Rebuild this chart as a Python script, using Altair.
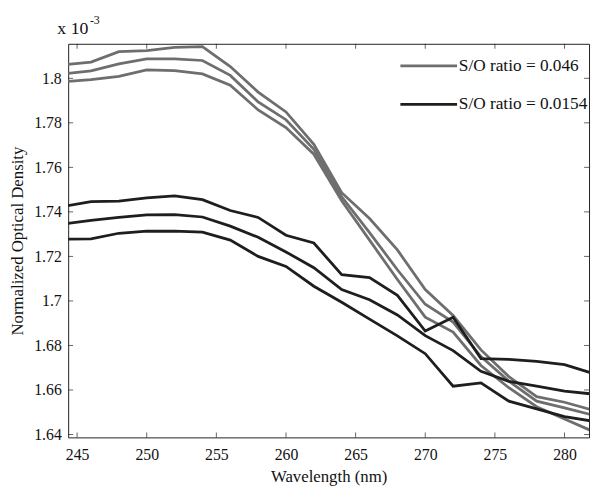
import altair as alt
import pandas as pd

wavelength = [244, 246, 248, 250, 252, 254, 256, 258, 260, 262,
              264, 266, 268, 270, 272, 274, 276, 278, 280, 282]

g1 = [1.8060, 1.8073, 1.8120, 1.8124, 1.8139, 1.8142, 1.8053, 1.7938, 1.7849, 1.7703,
      1.7486, 1.7370, 1.7229, 1.7051, 1.6935, 1.6780, 1.6660, 1.6570, 1.6545, 1.6510]
g2 = [1.8020, 1.8033, 1.8065, 1.8087, 1.8087, 1.8080, 1.8013, 1.7894, 1.7814, 1.7681,
      1.7468, 1.7307, 1.7140, 1.6985, 1.6905, 1.6750, 1.6640, 1.6550, 1.6520, 1.6488]
g3 = [1.7984, 1.7994, 1.8009, 1.8038, 1.8034, 1.8020, 1.7969, 1.7858, 1.7779, 1.7659,
      1.7450, 1.7273, 1.7096, 1.6927, 1.6860, 1.6710, 1.6610, 1.6525, 1.6470, 1.6415]
b1 = [1.7424, 1.7446, 1.7448, 1.7463, 1.7472, 1.7455, 1.7406, 1.7375, 1.7295, 1.7260,
      1.7118, 1.7105, 1.7025, 1.6865, 1.6927, 1.6741, 1.6737, 1.6728, 1.6714, 1.6675]
b2 = [1.7346, 1.7362, 1.7375, 1.7386, 1.7388, 1.7377, 1.7336, 1.7286, 1.7220, 1.7149,
      1.7051, 1.7005, 1.6937, 1.6844, 1.6777, 1.6684, 1.6639, 1.6617, 1.6595, 1.6582]
b3 = [1.7277, 1.7279, 1.7304, 1.7313, 1.7313, 1.7309, 1.7273, 1.7200, 1.7155, 1.7066,
      1.6994, 1.6918, 1.6843, 1.6763, 1.6617, 1.6632, 1.6550, 1.6515, 1.6480, 1.6460]

legend_labels = ["S/O ratio = 0.046", "S/O ratio = 0.0154"]
series = [("g1", legend_labels[0], g1), ("g2", legend_labels[0], g2), ("g3", legend_labels[0], g3),
          ("b1", legend_labels[1], b1), ("b2", legend_labels[1], b2), ("b3", legend_labels[1], b3)]

x_ticks = [245, 250, 255, 260, 265, 270, 275, 280]
y_ticks = [1.64, 1.66, 1.68, 1.70, 1.72, 1.74, 1.76, 1.78, 1.80]

rows = []
for sid, grp, vals in series:
    for w, v in zip(wavelength, vals):
        rows.append({"wl": w, "val": v, "sid": sid, "group": grp})
df = pd.DataFrame(rows)

W, H = 528, 399
FONT = "Liberation Serif"

xscale = alt.Scale(domain=[244.36, 281.76], nice=False, zero=False)
yscale = alt.Scale(domain=[1.6387, 1.8155], nice=False, zero=False)

x_axis = alt.Axis(values=x_ticks, title="Wavelength (nm)", grid=False, ticks=False,
                  domain=False, labelPadding=9, titlePadding=7)
y_axis = alt.Axis(values=y_ticks, format=".2~f", title="Normalized Optical Density",
                  grid=False, ticks=False, domain=False, labelPadding=7, titlePadding=7)

lines = alt.Chart(df).mark_line(strokeWidth=2.8, clip=True).encode(
    x=alt.X("wl:Q", scale=xscale, axis=x_axis),
    y=alt.Y("val:Q", scale=yscale, axis=y_axis),
    color=alt.Color("group:N",
                    scale=alt.Scale(domain=legend_labels, range=["#6e6e6e", "#1e1e1e"]),
                    legend=alt.Legend(title=None, orient="none", legendX=335, legendY=-8,
                                      symbolType="stroke", symbolSize=3300, symbolStrokeWidth=2.8,
                                      labelFont=FONT, labelFontSize=17.5, labelColor="#111",
                                      labelOffset=0, rowPadding=0, padding=0)),
    detail="sid:N",
)

xt = pd.DataFrame({"wl": x_ticks})
yt = pd.DataFrame({"val": y_ticks})

tick_bottom = alt.Chart(xt).mark_tick(orient="vertical", size=5, thickness=1, color="#222").encode(
    x=alt.X("wl:Q", scale=xscale, axis=x_axis), y=alt.value(H - 2.5))
tick_top = alt.Chart(xt).mark_tick(orient="vertical", size=5, thickness=1, color="#222").encode(
    x=alt.X("wl:Q", scale=xscale, axis=x_axis), y=alt.value(2.5))
tick_left = alt.Chart(yt).mark_tick(orient="horizontal", size=5, thickness=1, color="#222").encode(
    y=alt.Y("val:Q", scale=yscale, axis=y_axis), x=alt.value(2.5))
tick_right = alt.Chart(yt).mark_tick(orient="horizontal", size=5, thickness=1, color="#222").encode(
    y=alt.Y("val:Q", scale=yscale, axis=y_axis), x=alt.value(W - 2.5))

exp_df = pd.DataFrame({"t": ["x 10"]})
exp_main = alt.Chart(exp_df).mark_text(font=FONT, fontSize=18, align="left", baseline="middle",
                                       color="#111").encode(
    text="t:N", x=alt.value(-11), y=alt.value(-15))
exp_sup_df = pd.DataFrame({"t": ["-3"]})
exp_sup = alt.Chart(exp_sup_df).mark_text(font=FONT, fontSize=12, align="left", baseline="middle",
                                          color="#111").encode(
    text="t:N", x=alt.value(22), y=alt.value(-24))

chart = alt.layer(lines, tick_bottom, tick_top, tick_left, tick_right, exp_main, exp_sup).properties(
    width=W, height=H,
    background="white",
    autosize=alt.AutoSizeParams(type="none"),
    padding={"left": 61, "top": 33, "right": 2, "bottom": 47},
).configure_view(stroke="#222", strokeWidth=1).configure_axis(
    labelFont=FONT, labelFontSize=16, labelColor="#111",
    titleFont=FONT, titleFontSize=17, titleColor="#111", titleFontWeight="normal",
)

chart.save("out.html", embed_options={"renderer": "svg", "actions": False})
